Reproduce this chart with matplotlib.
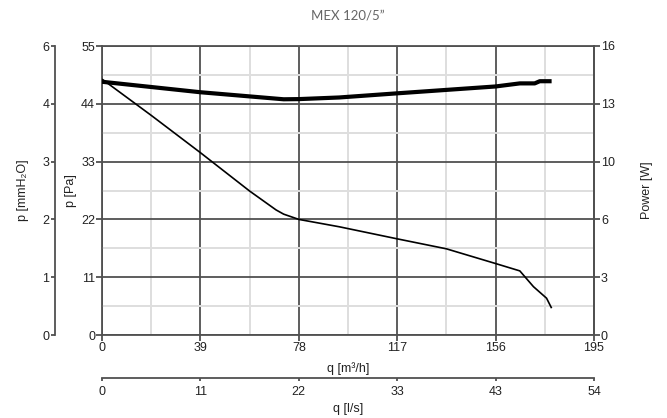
import matplotlib
matplotlib.use("Agg")
import matplotlib.pyplot as plt
from matplotlib.ticker import MultipleLocator, FixedLocator

# ---- data ----
q_pressure = [0, 19.5, 39, 58.5, 69, 72, 78, 94, 117, 136.5, 156, 165.6, 171, 176.2, 178.2]
pressure_pa = [48.7, 41.8, 34.7, 27.4, 23.8, 23.0, 22.0, 20.6, 18.3, 16.4, 13.6, 12.2, 9.2, 7.0, 5.1]

q_power = [0, 19.5, 39, 72, 78, 94, 117, 156, 165.6, 171.5, 173.5, 178.2]
power_w = [14.02, 13.73, 13.44, 13.05, 13.06, 13.15, 13.38, 13.76, 13.93, 13.93, 14.05, 14.05]

x_ticks_m3h = [0, 39, 78, 117, 156, 195]
x_labels_ls = ["0", "11", "22", "33", "43", "54"]
y_ticks_pa = [0, 11, 22, 33, 44, 55]
y_labels_mmh2o = ["0", "1", "2", "3", "4", "6"]
y_labels_power = ["0", "3", "6", "10", "13", "16"]
title = "MEX 120/5\u201d"

# ---- style ----
plt.rcParams['font.family'] = ['Liberation Sans', 'DejaVu Sans']
dark = "#505050"
light = "#dedede"
txt = "#222222"
fs = 9

fig = plt.figure(figsize=(6.67, 4.18), dpi=100)
ax = fig.add_axes([102/667, 1-335/418, 492/667, 289/418])

ax.set_xlim(0, 195)
ax.set_ylim(0, 55)
ax.xaxis.set_major_locator(FixedLocator(x_ticks_m3h))
ax.yaxis.set_major_locator(FixedLocator(y_ticks_pa))
ax.xaxis.set_minor_locator(MultipleLocator(19.5))
ax.yaxis.set_minor_locator(MultipleLocator(5.5))
ax.grid(which='minor', color=light, lw=1.4, zorder=0)
ax.grid(which='major', color=dark, lw=1.3, zorder=1)
ax.set_axisbelow(True)
ax.tick_params(which='minor', length=0)
ax.tick_params(which='major', length=4, width=1.3, color=dark, labelsize=fs,
               labelcolor=txt, pad=1)
for s in ax.spines.values():
    s.set_color(dark)
    s.set_linewidth(1.3)

ax.plot(q_pressure, pressure_pa, color='black', lw=1.2, zorder=3,
        solid_capstyle='butt')

ax.set_xlabel("q [m\u00b3/h]", fontsize=fs, color=txt, labelpad=6)
ax.set_ylabel("p [Pa]", fontsize=fs, color=txt, labelpad=3)

# power axis (right)
axp = ax.twinx()
axp.set_ylim(0, 16)
axp.set_yticks([v * 16 / 55 for v in y_ticks_pa])
axp.set_yticklabels(y_labels_power)
axp.plot(q_power, power_w, color='black', lw=3.0, zorder=4,
         solid_capstyle='butt')
axp.tick_params(length=4, width=1.3, color=dark, labelsize=fs, labelcolor=txt, pad=1)
for s in axp.spines.values():
    s.set_visible(False)
axp.spines['right'].set_visible(True)
axp.spines['right'].set_color(dark)
axp.spines['right'].set_linewidth(1.3)
axp.set_ylabel("Power [W]", fontsize=fs, color=txt, labelpad=19)

# mmH2O axis (far left)
axm = ax.twinx()
axm.set_ylim(0, 55)
axm.yaxis.set_ticks_position('left')
axm.yaxis.set_label_position('left')
axm.set_yticks(y_ticks_pa)
axm.set_yticklabels(y_labels_mmh2o)
for s in axm.spines.values():
    s.set_visible(False)
axm.spines['left'].set_visible(True)
axm.spines['left'].set_position(('axes', (55 - 102) / 492))
axm.spines['left'].set_color(dark)
axm.spines['left'].set_linewidth(1.3)
axm.tick_params(length=3, width=1.3, color=dark, labelsize=fs, labelcolor=txt, pad=1)
axm.set_ylabel("p [mmH\u2082O]", fontsize=fs, color=txt, labelpad=10)

# l/s axis (second bottom)
axl = ax.twiny()
axl.set_xlim(0, 195)
axl.xaxis.set_ticks_position('bottom')
axl.xaxis.set_label_position('bottom')
axl.set_xticks(x_ticks_m3h)
axl.set_xticklabels(x_labels_ls)
for s in axl.spines.values():
    s.set_visible(False)
axl.spines['bottom'].set_visible(True)
axl.spines['bottom'].set_position(('axes', (335 - 378) / 289))
axl.spines['bottom'].set_color(dark)
axl.spines['bottom'].set_linewidth(1.3)
axl.tick_params(length=2, width=1.3, direction='out', color=dark, labelsize=fs,
                labelcolor=txt, pad=3.5)
axl.set_xlabel("q [l/s]", fontsize=fs, color=txt, labelpad=4)

fig.text(0.5 * (102 + 594) / 667, 1 - 15 / 418, title, ha='center', va='center',
         fontsize=9.5, color='#666666', family=['Lato', 'DejaVu Sans'])

fig.savefig("out.png", dpi=100)
